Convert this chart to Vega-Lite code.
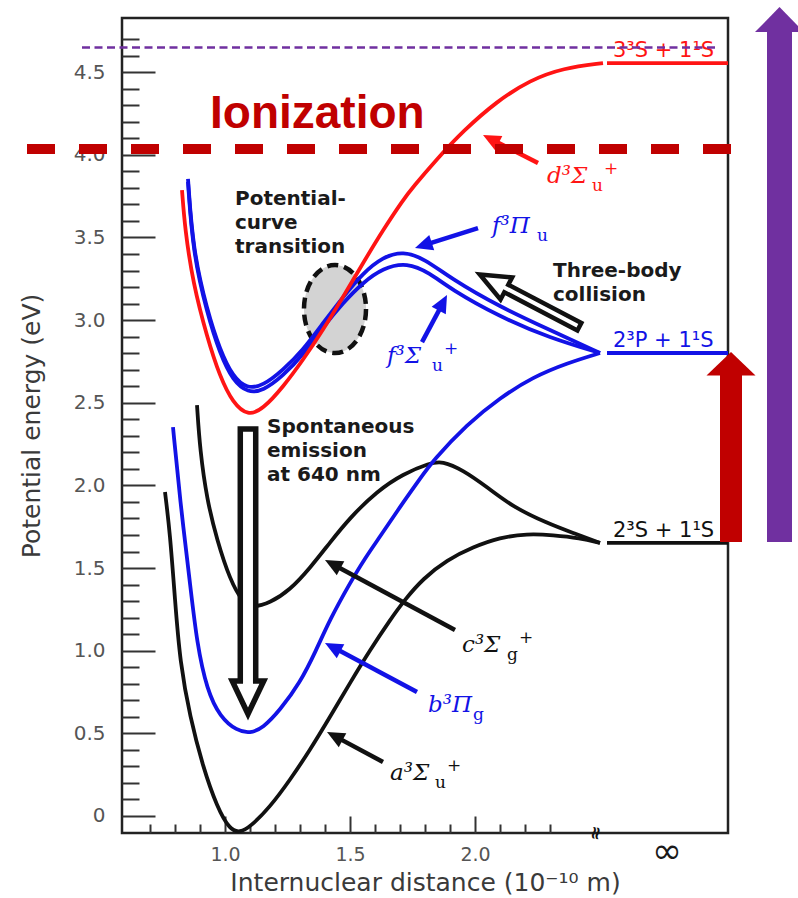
{
"$schema": "https://vega.github.io/schema/vega-lite/v6.json",
"width": 606, "height": 815,
"autosize": {"type": "none"},
"padding": {"left": 122, "top": 18, "right": 70, "bottom": 65},
"background": "#ffffff",
"config": {"view": {"stroke": "#222222", "strokeWidth": 2.5}, "axis": {"grid": false, "domain": false}},
"resolve": {"axis": {"x": "independent", "y": "independent"}},
"datasets": {
"curves": [
{"state":"a³Σu⁺","x":0.76,"y":1.96},{"state":"a³Σu⁺","x":0.78,"y":1.712},{"state":"a³Σu⁺","x":0.80,"y":1.307},{"state":"a³Σu⁺","x":0.82,"y":0.93},{"state":"a³Σu⁺","x":0.86,"y":0.599},{"state":"a³Σu⁺","x":0.912,"y":0.296},{"state":"a³Σu⁺","x":0.968,"y":0.054},{"state":"a³Σu⁺","x":1.02,"y":-0.085},{"state":"a³Σu⁺","x":1.06,"y":-0.1},{"state":"a³Σu⁺","x":1.10,"y":-0.067},{"state":"a³Σu⁺","x":1.18,"y":0.054},{"state":"a³Σu⁺","x":1.26,"y":0.218},{"state":"a³Σu⁺","x":1.34,"y":0.399},{"state":"a³Σu⁺","x":1.42,"y":0.599},{"state":"a³Σu⁺","x":1.50,"y":0.805},{"state":"a³Σu⁺","x":1.58,"y":1.004},{"state":"a³Σu⁺","x":1.66,"y":1.186},{"state":"a³Σu⁺","x":1.72,"y":1.31},{"state":"a³Σu⁺","x":1.792,"y":1.436},{"state":"a³Σu⁺","x":1.888,"y":1.549},{"state":"a³Σu⁺","x":1.992,"y":1.627},{"state":"a³Σu⁺","x":2.10,"y":1.685},{"state":"a³Σu⁺","x":2.208,"y":1.708},{"state":"a³Σu⁺","x":2.312,"y":1.70},{"state":"a³Σu⁺","x":2.42,"y":1.682},{"state":"a³Σu⁺","x":2.50,"y":1.652},
{"state":"c³Σg⁺","x":0.888,"y":2.486},{"state":"c³Σg⁺","x":0.90,"y":2.214},{"state":"c³Σg⁺","x":0.928,"y":1.912},{"state":"c³Σg⁺","x":0.968,"y":1.67},{"state":"c³Σg⁺","x":1.02,"y":1.428},{"state":"c³Σg⁺","x":1.072,"y":1.289},{"state":"c³Σg⁺","x":1.112,"y":1.26},{"state":"c³Σg⁺","x":1.18,"y":1.289},{"state":"c³Σg⁺","x":1.26,"y":1.367},{"state":"c³Σg⁺","x":1.34,"y":1.5},{"state":"c³Σg⁺","x":1.42,"y":1.655},{"state":"c³Σg⁺","x":1.50,"y":1.805},{"state":"c³Σg⁺","x":1.608,"y":1.965},{"state":"c³Σg⁺","x":1.712,"y":2.07},{"state":"c³Σg⁺","x":1.82,"y":2.135},{"state":"c³Σg⁺","x":1.868,"y":2.148},{"state":"c³Σg⁺","x":1.952,"y":2.093},{"state":"c³Σg⁺","x":2.048,"y":1.99},{"state":"c³Σg⁺","x":2.152,"y":1.869},{"state":"c³Σg⁺","x":2.288,"y":1.772},{"state":"c³Σg⁺","x":2.392,"y":1.712},{"state":"c³Σg⁺","x":2.50,"y":1.652},
{"state":"b³Πg","x":0.792,"y":2.353},{"state":"b³Πg","x":0.82,"y":1.912},{"state":"b³Πg","x":0.86,"y":1.41},{"state":"b³Πg","x":0.888,"y":1.04},{"state":"b³Πg","x":0.928,"y":0.762},{"state":"b³Πg","x":0.98,"y":0.599},{"state":"b³Πg","x":1.048,"y":0.515},{"state":"b³Πg","x":1.10,"y":0.5},{"state":"b³Πg","x":1.152,"y":0.532},{"state":"b³Πg","x":1.22,"y":0.641},{"state":"b³Πg","x":1.30,"y":0.805},{"state":"b³Πg","x":1.364,"y":1.0},{"state":"b³Πg","x":1.42,"y":1.19},{"state":"b³Πg","x":1.50,"y":1.41},{"state":"b³Πg","x":1.56,"y":1.56},{"state":"b³Πg","x":1.62,"y":1.69},{"state":"b³Πg","x":1.70,"y":1.87},{"state":"b³Πg","x":1.78,"y":2.04},{"state":"b³Πg","x":1.832,"y":2.15},{"state":"b³Πg","x":1.968,"y":2.37},{"state":"b³Πg","x":2.10,"y":2.53},{"state":"b³Πg","x":2.232,"y":2.656},{"state":"b³Πg","x":2.368,"y":2.74},{"state":"b³Πg","x":2.50,"y":2.801},
{"state":"f³Πu","x":0.852,"y":3.854},{"state":"f³Πu","x":0.872,"y":3.424},{"state":"f³Πu","x":0.928,"y":3.061},{"state":"f³Πu","x":0.98,"y":2.819},{"state":"f³Πu","x":1.032,"y":2.656},{"state":"f³Πu","x":1.088,"y":2.585},{"state":"f³Πu","x":1.152,"y":2.603},{"state":"f³Πu","x":1.232,"y":2.698},{"state":"f³Πu","x":1.312,"y":2.819},{"state":"f³Πu","x":1.392,"y":2.982},{"state":"f³Πu","x":1.472,"y":3.14},{"state":"f³Πu","x":1.552,"y":3.285},{"state":"f³Πu","x":1.632,"y":3.382},{"state":"f³Πu","x":1.712,"y":3.418},{"state":"f³Πu","x":1.80,"y":3.37},{"state":"f³Πu","x":1.90,"y":3.255},{"state":"f³Πu","x":2.10,"y":3.079},{"state":"f³Πu","x":2.30,"y":2.94},{"state":"f³Πu","x":2.50,"y":2.801},
{"state":"f³Σu⁺","x":0.852,"y":3.836},{"state":"f³Σu⁺","x":0.872,"y":3.406},{"state":"f³Σu⁺","x":0.928,"y":3.043},{"state":"f³Σu⁺","x":0.98,"y":2.795},{"state":"f³Σu⁺","x":1.032,"y":2.632},{"state":"f³Σu⁺","x":1.092,"y":2.56},{"state":"f³Σu⁺","x":1.152,"y":2.572},{"state":"f³Σu⁺","x":1.232,"y":2.662},{"state":"f³Σu⁺","x":1.312,"y":2.79},{"state":"f³Σu⁺","x":1.392,"y":2.958},{"state":"f³Σu⁺","x":1.472,"y":3.105},{"state":"f³Σu⁺","x":1.552,"y":3.228},{"state":"f³Σu⁺","x":1.632,"y":3.315},{"state":"f³Σu⁺","x":1.728,"y":3.35},{"state":"f³Σu⁺","x":1.82,"y":3.285},{"state":"f³Σu⁺","x":1.90,"y":3.19},{"state":"f³Σu⁺","x":2.10,"y":3.019},{"state":"f³Σu⁺","x":2.30,"y":2.892},{"state":"f³Σu⁺","x":2.50,"y":2.801},
{"state":"d³Σu⁺","x":0.828,"y":3.787},{"state":"d³Σu⁺","x":0.84,"y":3.55},{"state":"d³Σu⁺","x":0.872,"y":3.224},{"state":"d³Σu⁺","x":0.928,"y":2.898},{"state":"d³Σu⁺","x":0.98,"y":2.656},{"state":"d³Σu⁺","x":1.032,"y":2.498},{"state":"d³Σu⁺","x":1.092,"y":2.42},{"state":"d³Σu⁺","x":1.152,"y":2.462},{"state":"d³Σu⁺","x":1.232,"y":2.595},{"state":"d³Σu⁺","x":1.312,"y":2.759},{"state":"d³Σu⁺","x":1.392,"y":2.94},{"state":"d³Σu⁺","x":1.472,"y":3.14},{"state":"d³Σu⁺","x":1.552,"y":3.345},{"state":"d³Σu⁺","x":1.632,"y":3.545},{"state":"d³Σu⁺","x":1.712,"y":3.727},{"state":"d³Σu⁺","x":1.752,"y":3.805},{"state":"d³Σu⁺","x":1.848,"y":3.975},{"state":"d³Σu⁺","x":1.952,"y":4.144},{"state":"d³Σu⁺","x":2.088,"y":4.325},{"state":"d³Σu⁺","x":2.22,"y":4.452},{"state":"d³Σu⁺","x":2.352,"y":4.525},{"state":"d³Σu⁺","x":2.512,"y":4.555},
{"state":"2³S + 1¹S","x":2.528,"y":1.652},{"state":"2³S + 1¹S","x":3.012,"y":1.652},
{"state":"2³P + 1¹S","x":2.528,"y":2.801},{"state":"2³P + 1¹S","x":3.012,"y":2.801},
{"state":"3³S + 1¹S","x":2.528,"y":4.555},{"state":"3³S + 1¹S","x":3.012,"y":4.555}
],
"arrows": [
{"state":"d³Σu⁺","x":2.252,"y":3.95,"x2":2.075,"y2":4.087,"xt":2.032,"yt":4.12},
{"state":"f³Πu","x":2.012,"y":3.557,"x2":1.806,"y2":3.458,"xt":1.76,"yt":3.436},
{"state":"f³Σu⁺","x":1.788,"y":2.867,"x2":1.866,"y2":3.088,"xt":1.888,"yt":3.152},
{"state":"c³Σg⁺","x":1.92,"y":1.125,"x2":1.442,"y2":1.514,"xt":1.40,"yt":1.549},
{"state":"b³Πg","x":1.768,"y":0.75,"x2":1.442,"y2":1.013,"xt":1.40,"yt":1.047},
{"state":"a³Σu⁺","x":1.632,"y":0.327,"x2":1.45,"y2":0.474,"xt":1.408,"yt":0.508}
],
"labels": [
{"state":"d³Σu⁺","x":2.288,"y":3.829,"main":"d³Σ","sub":"u","sup":"+"},
{"state":"f³Πu","x":2.068,"y":3.527,"main":"f³Π","sub":"u","sup":""},
{"state":"f³Σu⁺","x":1.648,"y":2.74,"main":"f³Σ","sub":"u","sup":"+"},
{"state":"c³Σg⁺","x":1.948,"y":0.992,"main":"c³Σ","sub":"g","sup":"+"},
{"state":"b³Πg","x":1.812,"y":0.629,"main":"b³Π","sub":"g","sup":""},
{"state":"a³Σu⁺","x":1.66,"y":0.218,"main":"a³Σ","sub":"u","sup":"+"}
],
"notes": [
{"kind":"threshold","note":"Ionization","x":0.94,"y":4.162},
{"kind":"process","note":"Potential-\ncurve\ntransition","x":1.04,"y":3.696},
{"kind":"process","note":"Spontaneous\nemission\nat 640 nm","x":1.168,"y":2.317},
{"kind":"process","note":"Three-body\ncollision","x":2.312,"y":3.261}
],
"levels": [
{"state":"3³S + 1¹S","x":2.552,"y":4.592},
{"state":"2³P + 1¹S","x":2.552,"y":2.837},
{"state":"2³S + 1¹S","x":2.552,"y":1.688}
],
"thresholds": [
{"level":"Ionization","x":0.208,"x2":3.112,"y":4.035},
{"level":"Upper limit","x":0.428,"x2":2.968,"y":4.65}
],
"excitation": [
{"step":"2³S → 2³P","x":3.024,"y":1.658,"y2":2.69,"yt":2.807},
{"step":"2³S → ionization","x":3.218,"y":1.658,"y2":4.76,"yt":4.894}
],
"regions": [{"region":"Potential-curve transition","x":1.44,"y":3.067}],
"processes": [
{"process":"emission","x":1.092,"y":0.617},
{"process":"three-body","x":2.019,"y":3.276}
],
"axismarks": [{"mark":"≈","x":2.48,"y":-0.103},{"mark":"∞","x":2.768,"y":-0.103}]
},
"encoding": {
"x": {"field":"x","type":"quantitative","scale":{"domain":[0.588,3.012],"nice":false,"zero":false},"axis":null},
"y": {"field":"y","type":"quantitative","scale":{"domain":[-0.103,4.828],"nice":false,"zero":false},"axis":null}
},
"layer": [
{"data":{"name":"regions"},"mark":{"type":"point","shape":"M0.705,0 C0.705,0.552 0.389,1 0,1 C-0.389,1 -0.705,0.552 -0.705,0 C-0.705,-0.552 -0.389,-1 0,-1 C0.389,-1 0.705,-0.552 0.705,0 Z","size":7744,"filled":true,"fill":"#d3d3d3","stroke":"#111111","strokeWidth":4.5,"strokeDash":[11,6],"opacity":1}},
{"data":{"name":"curves"},"mark":{"type":"line","strokeWidth":3.8,"interpolate":"basis"},
 "encoding":{
  "x":{"field":"x","type":"quantitative","scale":{"domain":[0.588,3.012],"nice":false,"zero":false},
   "axis":{"orient":"bottom","values":[1.0,1.5,2.0],"labelExpr":"format(datum.value, '.1f')","tickSize":-17,"tickColor":"#333333","tickWidth":2,"labelPadding":29,"labelFont":"DejaVu Sans","labelFontSize":19,"labelColor":"#555555","labelOverlap":false,"labelFlush":false,"domain":false,"grid":false,
    "title":"Internuclear distance (10⁻¹⁰ m)","titleFont":"DejaVu Sans","titleFontSize":25,"titleFontWeight":"normal","titleColor":"#3a3a3a","titlePadding":6}},
  "y":{"field":"y","type":"quantitative","scale":{"domain":[-0.103,4.828],"nice":false,"zero":false},
   "axis":{"orient":"left","values":[0,0.5,1.0,1.5,2.0,2.5,3.0,3.5,4.0,4.5],"labelExpr":"datum.value == 0 ? '0' : format(datum.value, '.1f')","tickSize":-33,"tickColor":"#333333","tickWidth":2,"labelPadding":50,"labelFont":"DejaVu Sans","labelFontSize":20,"labelColor":"#555555","labelOverlap":false,"labelFlush":false,"domain":false,"grid":false,
    "title":"Potential energy (eV)","titleFont":"DejaVu Sans","titleFontSize":25,"titleFontWeight":"normal","titleColor":"#3a3a3a","titlePadding":29}},
  "color":{"field":"state","type":"nominal","scale":{"domain":["a³Σu⁺","c³Σg⁺","b³Πg","f³Πu","f³Σu⁺","d³Σu⁺","2³S + 1¹S","2³P + 1¹S","3³S + 1¹S"],"range":["#111111","#111111","#1212e6","#1212e6","#1212e6","#ff1414","#111111","#1212e6","#ff1414"]},"legend":null}}},
{"data":{"name":"arrows"},"mark":{"type":"rule","strokeWidth":4.5},
 "encoding":{"x2":{"field":"x2"},"y2":{"field":"y2"},"color":{"field":"state","type":"nominal","scale":{"domain":["a³Σu⁺","c³Σg⁺","b³Πg","f³Πu","f³Σu⁺","d³Σu⁺","2³S + 1¹S","2³P + 1¹S","3³S + 1¹S"],"range":["#111111","#111111","#1212e6","#1212e6","#1212e6","#ff1414","#111111","#1212e6","#ff1414"]},"legend":null}}},
{"data":{"name":"arrows"},"transform":[{"filter":"datum.state == 'd³Σu⁺'"}],"mark":{"type":"point","shape":"M0,0 L0.5,1.1 L-0.5,1.1 Z","size":1024,"angle":297,"filled":true,"opacity":1,"fill":"#ff1414","strokeWidth":0},
 "encoding":{"x":{"field":"xt","type":"quantitative","scale":{"domain":[0.588,3.012],"nice":false,"zero":false},"axis":null},"y":{"field":"yt","type":"quantitative","scale":{"domain":[-0.103,4.828],"nice":false,"zero":false},"axis":null}}},
{"data":{"name":"arrows"},"transform":[{"filter":"datum.state == 'f³Πu'"}],"mark":{"type":"point","shape":"M0,0 L0.5,1.1 L-0.5,1.1 Z","size":1024,"angle":252,"filled":true,"opacity":1,"fill":"#1212e6","strokeWidth":0},
 "encoding":{"x":{"field":"xt","type":"quantitative","scale":{"domain":[0.588,3.012],"nice":false,"zero":false},"axis":null},"y":{"field":"yt","type":"quantitative","scale":{"domain":[-0.103,4.828],"nice":false,"zero":false},"axis":null}}},
{"data":{"name":"arrows"},"transform":[{"filter":"datum.state == 'f³Σu⁺'"}],"mark":{"type":"point","shape":"M0,0 L0.5,1.1 L-0.5,1.1 Z","size":1024,"angle":28,"filled":true,"opacity":1,"fill":"#1212e6","strokeWidth":0},
 "encoding":{"x":{"field":"xt","type":"quantitative","scale":{"domain":[0.588,3.012],"nice":false,"zero":false},"axis":null},"y":{"field":"yt","type":"quantitative","scale":{"domain":[-0.103,4.828],"nice":false,"zero":false},"axis":null}}},
{"data":{"name":"arrows"},"transform":[{"filter":"datum.state == 'c³Σg⁺'"}],"mark":{"type":"point","shape":"M0,0 L0.5,1.1 L-0.5,1.1 Z","size":1024,"angle":298,"filled":true,"opacity":1,"fill":"#111111","strokeWidth":0},
 "encoding":{"x":{"field":"xt","type":"quantitative","scale":{"domain":[0.588,3.012],"nice":false,"zero":false},"axis":null},"y":{"field":"yt","type":"quantitative","scale":{"domain":[-0.103,4.828],"nice":false,"zero":false},"axis":null}}},
{"data":{"name":"arrows"},"transform":[{"filter":"datum.state == 'b³Πg'"}],"mark":{"type":"point","shape":"M0,0 L0.5,1.1 L-0.5,1.1 Z","size":1024,"angle":298,"filled":true,"opacity":1,"fill":"#1212e6","strokeWidth":0},
 "encoding":{"x":{"field":"xt","type":"quantitative","scale":{"domain":[0.588,3.012],"nice":false,"zero":false},"axis":null},"y":{"field":"yt","type":"quantitative","scale":{"domain":[-0.103,4.828],"nice":false,"zero":false},"axis":null}}},
{"data":{"name":"arrows"},"transform":[{"filter":"datum.state == 'a³Σu⁺'"}],"mark":{"type":"point","shape":"M0,0 L0.5,1.1 L-0.5,1.1 Z","size":1024,"angle":298,"filled":true,"opacity":1,"fill":"#111111","strokeWidth":0},
 "encoding":{"x":{"field":"xt","type":"quantitative","scale":{"domain":[0.588,3.012],"nice":false,"zero":false},"axis":null},"y":{"field":"yt","type":"quantitative","scale":{"domain":[-0.103,4.828],"nice":false,"zero":false},"axis":null}}},
{"data":{"name":"processes"},"transform":[{"filter":"datum.process == 'emission'"}],"mark":{"type":"point","shape":"M0,0 L1,2.1 L0.49,2.1 L0.49,18.1 L-0.49,18.1 L-0.49,2.1 L-1,2.1 Z","size":992,"angle":180,"filled":true,"fill":"#ffffff","stroke":"#111111","strokeWidth":5.5,"strokeJoin":"miter","opacity":1}},
{"data":{"name":"processes"},"transform":[{"filter":"datum.process == 'three-body'"}],"mark":{"type":"point","shape":"M0,0 L1,2.4 L0.34,2.4 L0.34,9 L-0.34,9 L-0.34,2.4 L-1,2.4 Z","size":625,"angle":297.7,"filled":true,"fill":"#ffffff","stroke":"#111111","strokeWidth":4.5,"strokeJoin":"miter","opacity":1}},
{"data":{"name":"labels"},"mark":{"type":"text","align":"left","baseline":"alphabetic","font":"DejaVu Serif","fontStyle":"italic","fontSize":23},
 "encoding":{"text":{"field":"main"},"color":{"field":"state","type":"nominal","scale":{"domain":["a³Σu⁺","c³Σg⁺","b³Πg","f³Πu","f³Σu⁺","d³Σu⁺","2³S + 1¹S","2³P + 1¹S","3³S + 1¹S"],"range":["#111111","#111111","#1212e6","#1212e6","#1212e6","#ff1414","#111111","#1212e6","#ff1414"]},"legend":null}}},
{"data":{"name":"labels"},"mark":{"type":"text","align":"left","baseline":"alphabetic","font":"DejaVu Serif","fontSize":17,"dx":45,"dy":8},
 "encoding":{"text":{"field":"sub"},"color":{"field":"state","type":"nominal","scale":{"domain":["a³Σu⁺","c³Σg⁺","b³Πg","f³Πu","f³Σu⁺","d³Σu⁺","2³S + 1¹S","2³P + 1¹S","3³S + 1¹S"],"range":["#111111","#111111","#1212e6","#1212e6","#1212e6","#ff1414","#111111","#1212e6","#ff1414"]},"legend":null}}},
{"data":{"name":"labels"},"mark":{"type":"text","align":"left","baseline":"alphabetic","font":"DejaVu Serif","fontSize":17,"dx":57,"dy":-9},
 "encoding":{"text":{"field":"sup"},"color":{"field":"state","type":"nominal","scale":{"domain":["a³Σu⁺","c³Σg⁺","b³Πg","f³Πu","f³Σu⁺","d³Σu⁺","2³S + 1¹S","2³P + 1¹S","3³S + 1¹S"],"range":["#111111","#111111","#1212e6","#1212e6","#1212e6","#ff1414","#111111","#1212e6","#ff1414"]},"legend":null}}},
{"data":{"name":"notes"},"transform":[{"filter":"datum.kind == 'process'"}],"mark":{"type":"text","align":"left","baseline":"alphabetic","font":"DejaVu Sans","fontWeight":"bold","fontSize":20,"lineHeight":24,"lineBreak":"\n","color":"#1a1a1a"},
 "encoding":{"text":{"field":"note"}}},
{"data":{"name":"levels"},"mark":{"type":"text","align":"left","baseline":"alphabetic","font":"DejaVu Sans","fontSize":21},
 "encoding":{
  "x":{"field":"x","type":"quantitative","scale":{"domain":[0.588,3.012],"nice":false,"zero":false},
   "axis":{"orient":"bottom","values":[0.7,0.8,0.9,1.1,1.2,1.3,1.4,1.6,1.7,1.8,1.9,2.1,2.2,2.3],"labels":false,"tickSize":-9,"tickColor":"#333333","tickWidth":2,"domain":false,"grid":false,"title":null}},
  "y":{"field":"y","type":"quantitative","scale":{"domain":[-0.103,4.828],"nice":false,"zero":false},
   "axis":{"orient":"left","values":[0.1,0.2,0.3,0.4,0.6,0.7,0.8,0.9,1.1,1.2,1.3,1.4,1.6,1.7,1.8,1.9,2.1,2.2,2.3,2.4,2.6,2.7,2.8,2.9,3.1,3.2,3.3,3.4,3.6,3.7,3.8,3.9,4.1,4.2,4.3,4.4,4.6,4.7],"labels":false,"tickSize":-17,"tickColor":"#333333","tickWidth":2,"domain":false,"grid":false,"title":null}},
  "text":{"field":"state"},"color":{"field":"state","type":"nominal","scale":{"domain":["a³Σu⁺","c³Σg⁺","b³Πg","f³Πu","f³Σu⁺","d³Σu⁺","2³S + 1¹S","2³P + 1¹S","3³S + 1¹S"],"range":["#111111","#111111","#1212e6","#1212e6","#1212e6","#ff1414","#111111","#1212e6","#ff1414"]},"legend":null}}},
{"data":{"name":"thresholds"},"transform":[{"filter":"datum.level == 'Ionization'"}],"mark":{"type":"rule","color":"#c00000","strokeWidth":10,"strokeDash":[28,24]},
 "encoding":{"x2":{"field":"x2"}}},
{"data":{"name":"notes"},"transform":[{"filter":"datum.kind == 'threshold'"}],"mark":{"type":"text","align":"left","baseline":"alphabetic","font":"Liberation Sans","fontWeight":"bold","fontSize":46,"color":"#c00000"},
 "encoding":{"text":{"field":"note"}}},
{"data":{"name":"thresholds"},"transform":[{"filter":"datum.level == 'Upper limit'"}],"mark":{"type":"rule","color":"#7030a0","strokeWidth":2.5,"strokeDash":[8,4.5]},
 "encoding":{"x2":{"field":"x2"}}},
{"data":{"name":"excitation"},"transform":[{"filter":"datum.step == '2³S → 2³P'"}],"mark":{"type":"rule","color":"#c00000","strokeWidth":22},
 "encoding":{"y2":{"field":"y2"}}},
{"data":{"name":"excitation"},"transform":[{"filter":"datum.step == '2³S → ionization'"}],"mark":{"type":"rule","color":"#7030a0","strokeWidth":25},
 "encoding":{"y2":{"field":"y2"}}},
{"data":{"name":"excitation"},"transform":[{"filter":"datum.step == '2³S → 2³P'"}],"mark":{"type":"point","shape":"M0,0 L1,0.96 L-1,0.96 Z","size":2401,"filled":true,"fill":"#c00000","strokeWidth":0,"opacity":1},
 "encoding":{"y":{"field":"yt","type":"quantitative","scale":{"domain":[-0.103,4.828],"nice":false,"zero":false},"axis":null}}},
{"data":{"name":"excitation"},"transform":[{"filter":"datum.step == '2³S → ionization'"}],"mark":{"type":"point","shape":"M0,0 L1,1.02 L-1,1.02 Z","size":2401,"filled":true,"fill":"#7030a0","strokeWidth":0,"opacity":1},
 "encoding":{"y":{"field":"yt","type":"quantitative","scale":{"domain":[-0.103,4.828],"nice":false,"zero":false},"axis":null}}},
{"data":{"name":"axismarks"},"transform":[{"filter":"datum.mark == '≈'"}],"mark":{"type":"text","angle":100,"font":"DejaVu Sans","fontWeight":"bold","fontSize":18,"color":"#111111","align":"center","baseline":"middle"},
 "encoding":{"text":{"field":"mark"}}},
{"data":{"name":"axismarks"},"transform":[{"filter":"datum.mark == '∞'"}],"mark":{"type":"text","font":"DejaVu Sans","fontSize":36,"color":"#1a1a1a","align":"center","baseline":"middle","dy":19},
 "encoding":{"text":{"field":"mark"}}}
]
}
